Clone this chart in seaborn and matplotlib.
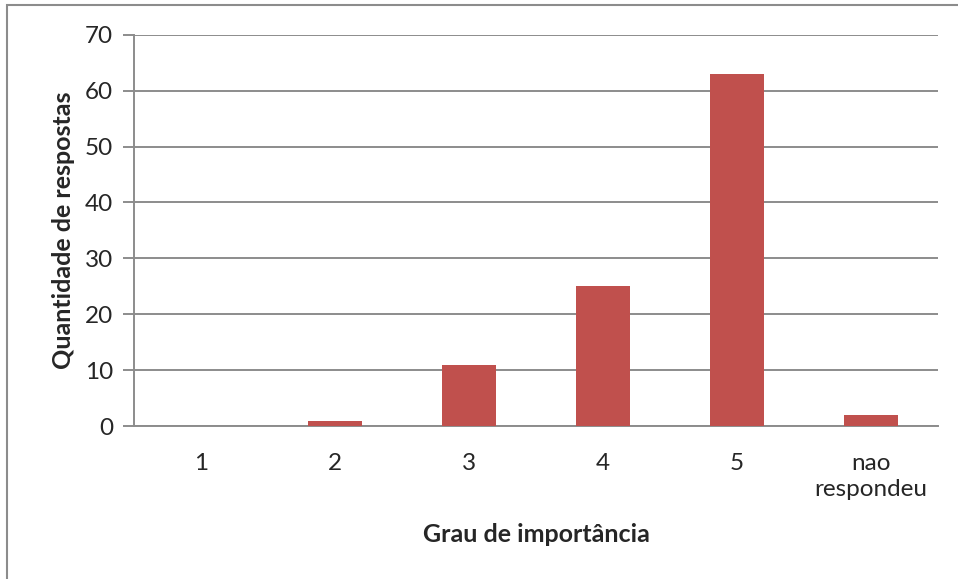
import matplotlib.pyplot as plt
import seaborn as sns
import pandas as pd
from matplotlib.patches import Rectangle

# data
categorias = ["1", "2", "3", "4", "5", "nao\nrespondeu"]
respostas = [0, 1, 11, 25, 63, 2]

df = pd.DataFrame({"Grau": categorias, "Qtd": respostas})

sns.set_style("white")
plt.rcParams["font.family"] = ["Lato", "DejaVu Sans"]

fig = plt.figure(figsize=(9.58, 5.79), dpi=100)
ax = fig.add_axes([0.140, 0.264, 0.839, 0.676])

sns.barplot(data=df, x="Grau", y="Qtd", color="#C0504D", width=0.4,
            saturation=1, linewidth=0, ax=ax, zorder=3)

ax.set_ylim(0, 70)
ax.set_yticks(range(0, 71, 10))
ax.yaxis.grid(True, color="#8c8c8c", linewidth=1.4, zorder=0)
ax.set_xlim(-0.5, 5.5)

for s in ["top", "right"]:
    ax.spines[s].set_visible(False)
for s in ["left", "bottom"]:
    ax.spines[s].set_color("#8c8c8c")
    ax.spines[s].set_linewidth(1.4)

ax.tick_params(axis="y", length=8, width=1.4, color="#8c8c8c", labelsize=17.5, pad=7, left=True)
ax.tick_params(axis="x", length=0, labelsize=17.5, pad=19)
plt.setp(ax.get_xticklabels(), linespacing=1.3)

ax.set_xlabel("Grau de importância", fontsize=18, fontweight="bold", labelpad=17)
ax.set_ylabel("Quantidade de respostas", fontsize=18, fontweight="bold", labelpad=7)

# chart area border (only left/top visible in the crop)
fig.patches.append(Rectangle((0.0075, -0.01), 1.1, 1.0015, transform=fig.transFigure,
                             fill=False, edgecolor="#8c8c8c", linewidth=1.5))

fig.savefig("out.png", dpi=100)
